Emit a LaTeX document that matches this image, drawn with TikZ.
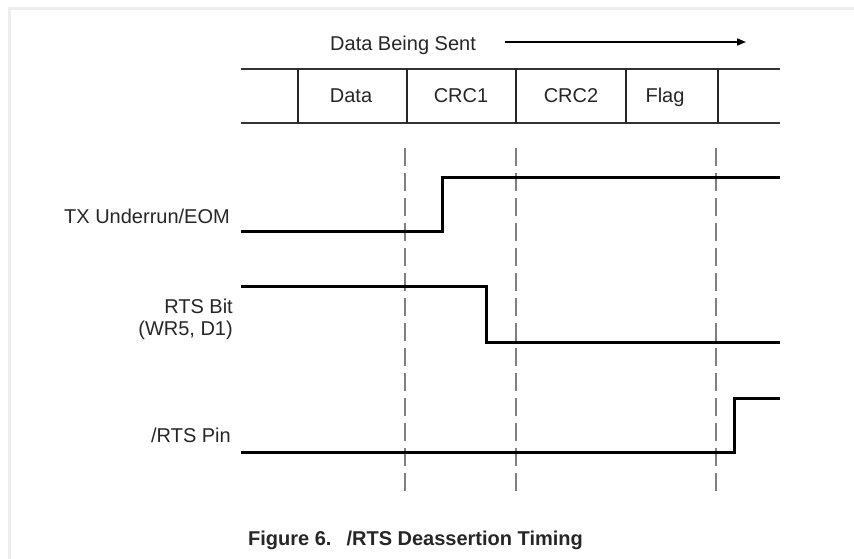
\documentclass[tikz,border=0pt]{standalone}
\usepackage{fontspec}
\setmainfont{Liberation Sans}
\usetikzlibrary{arrows.meta}

\begin{document}
\begin{tikzpicture}[
    x=1pt,y=-1pt,
    signal/.style={
        line width=3pt,
        line cap=butt,
        line join=miter
    },
    busline/.style={line width=2.4pt,black!80},
    slot/.style={line width=1.3pt,black!85},
    marker/.style={
        line width=1.4pt,
        black!50,
        dash pattern=on 18pt off 7pt
    },
    lbl/.style={font=\fontsize{20}{22}\selectfont,text=black!85,inner sep=0pt},
    frameline/.style={line width=3pt,black!7}
]
\useasboundingbox (0,0) rectangle (854,559);

% ------------------------------------------------
% Faint page frame
% ------------------------------------------------
\coordinate (F0) at (9,9);
\coordinate (F1) at (854,9);
\coordinate (F2) at (9,559);
\draw[frameline] (F1) -- (F0) -- (F2);

% ------------------------------------------------
% Geometry
% ------------------------------------------------
\def\xL{241}
\def\xR{780}
\def\yTop{69}
\def\yBot{123}

% ------------------------------------------------
% Direction of transfer
% ------------------------------------------------
\node[lbl,anchor=base west] (sent) at (330,51) {Data Being Sent};
\coordinate (A0) at (505,42);
\coordinate (A1) at (746,42);
\draw[line width=1.6pt,-{Triangle[length=9pt,width=7pt]}] (A0) -- (A1);

% ------------------------------------------------
% Byte slots
% ------------------------------------------------
\coordinate (BT0) at (\xL,\yTop);
\coordinate (BT1) at (\xR,\yTop);
\coordinate (BB0) at (\xL,\yBot);
\coordinate (BB1) at (\xR,\yBot);
\draw[busline] (BT0) -- (BT1);
\draw[busline] (BB0) -- (BB1);

\foreach \X in {298,407,516,626,718}
    \draw[slot] (\X,\yTop) -- (\X,\yBot);

\node[lbl,anchor=base] (data) at (351,103) {Data};
\node[lbl,anchor=base] (crc1) at (461,103) {CRC1};
\node[lbl,anchor=base] (crc2) at (571,103) {CRC2};
\node[lbl,anchor=base] (flag) at (665,103) {Flag};

% ------------------------------------------------
% Reference markers
% ------------------------------------------------
\foreach \X in {405,516,716}
    \draw[marker] (\X,148) -- (\X,492);

% ------------------------------------------------
% Waveforms
% ------------------------------------------------
% TX Underrun/EOM: goes high inside CRC1
\coordinate (T0) at (\xL,231.5);
\coordinate (T1) at (442,231.5);
\coordinate (T2) at (442,177);
\coordinate (T3) at (\xR,177);
\draw[signal] (T0) -- (T1) -- (T2) -- (T3);

% RTS bit: cleared later inside CRC1
\coordinate (R0) at (\xL,286);
\coordinate (R1) at (486,286);
\coordinate (R2) at (486,342);
\coordinate (R3) at (\xR,342);
\draw[signal] (R0) -- (R1) -- (R2) -- (R3);

% /RTS pin: released after the flag
\coordinate (P0) at (\xL,452);
\coordinate (P1) at (734,452);
\coordinate (P2) at (734,398);
\coordinate (P3) at (\xR,398);
\draw[signal] (P0) -- (P1) -- (P2) -- (P3);

% ------------------------------------------------
% Signal names
% ------------------------------------------------
\node[lbl,anchor=base east] (txu) at (230,223) {TX Underrun/EOM};
\node[lbl,anchor=base east,align=right] (rtsb) at (233,335) {RTS Bit\\(WR5, D1)};
\node[lbl,anchor=base east] (rtsp) at (231,442) {/RTS Pin};

% ------------------------------------------------
% Caption
% ------------------------------------------------
\node[anchor=base west,inner sep=0pt,text=black!85,
      font=\fontsize{20}{22}\selectfont\bfseries] (cap) at (248,545)
    {Figure 6.\hspace{15pt}/RTS Deassertion Timing};

\end{tikzpicture}
\end{document}
